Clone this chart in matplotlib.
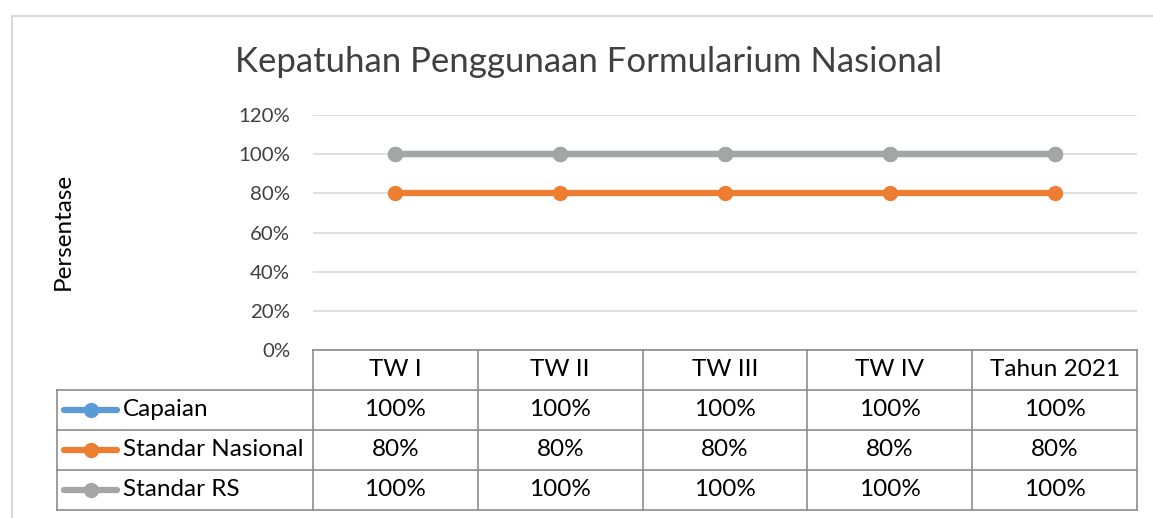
import matplotlib.pyplot as plt
from matplotlib.lines import Line2D
from matplotlib.patches import Rectangle

# data
kategori = ["TW I", "TW II", "TW III", "TW IV", "Tahun 2021"]
capaian = [1.00, 1.00, 1.00, 1.00, 1.00]
standar_nasional = [0.80, 0.80, 0.80, 0.80, 0.80]
standar_rs = [1.00, 1.00, 1.00, 1.00, 1.00]

seri_nama = ["Capaian", "Standar Nasional", "Standar RS"]
seri_nilai = [capaian, standar_nasional, standar_rs]
seri_warna = ["#5B9BD5", "#ED7D31", "#A5A5A5"]

plt.rcParams['font.family'] = ['Lato', 'DejaVu Sans']

W, H = 1153, 518
fig = plt.figure(figsize=(W / 100, H / 100), dpi=100)

def fx(px):
    return px / W

def fy(py):
    return 1 - py / H

# outer chart border
fig.patches.append(Rectangle((fx(12), fy(530)), fx(1160) - fx(12), fy(16) - fy(530),
                             transform=fig.transFigure, fill=False,
                             edgecolor="#D9D9D9", linewidth=1.5))

ax = fig.add_axes([fx(313), fy(350), fx(1137) - fx(313), fy(115) - fy(350)])
x = list(range(len(kategori)))

for nama, nilai, warna in zip(seri_nama, seri_nilai, seri_warna):
    ax.plot(x, nilai, color=warna, linewidth=4.5, marker="o", markersize=10,
            solid_capstyle="round", label=nama, zorder=3)

ax.set_xlim(-0.5, len(kategori) - 0.5)
ax.set_ylim(0, 1.2)
ticks = [0, 0.2, 0.4, 0.6, 0.8, 1.0, 1.2]
ax.set_yticks(ticks)
ax.set_yticklabels([f"{int(round(t * 100))}%" for t in ticks], fontsize=14.7, color="#404040")
ax.tick_params(axis="y", length=0, pad=16.5)
ax.set_xticks([])
ax.grid(axis="y", color="#D9D9D9", linewidth=1.2)
ax.set_axisbelow(True)
for s in ax.spines.values():
    s.set_visible(False)

fig.text(fx(589), fy(62), "Kepatuhan Penggunaan Formularium Nasional",
         ha="center", va="center", fontsize=25, color="#404040")
fig.text(fx(63), fy(231), "Persentase", rotation=90, ha="center", va="center",
         fontsize=17.5, color="#000000")

# data table
border = "#8C8C8C"
tbl_left, col_x0 = 57, 313
col_w = (1137 - 313) / len(kategori)
row_h = 40
top = 350

def hline(x0, x1, y):
    fig.add_artist(Line2D([fx(x0), fx(x1)], [fy(y), fy(y)], color=border, linewidth=1.2))

def vline(xp, y0, y1):
    fig.add_artist(Line2D([fx(xp), fx(xp)], [fy(y0), fy(y1)], color=border, linewidth=1.2))

n_rows = len(seri_nama)
bottom = top + row_h * (n_rows + 1)
hline(col_x0, 1137, top)
for r in range(1, n_rows + 2):
    hline(tbl_left, 1137, top + r * row_h)
vline(tbl_left, top + row_h, bottom)
for c in range(len(kategori) + 1):
    vline(col_x0 + c * col_w, top, bottom)

for c, k in enumerate(kategori):
    fig.text(fx(col_x0 + (c + 0.5) * col_w), fy(top + row_h / 2), k,
             ha="center", va="center", fontsize=17.5, color="#000000")

for r, (nama, nilai, warna) in enumerate(zip(seri_nama, seri_nilai, seri_warna)):
    yc = top + (r + 1.5) * row_h
    fig.add_artist(Line2D([fx(64), fx(117)], [fy(yc), fy(yc)], color=warna,
                          linewidth=4.5, solid_capstyle="round"))
    fig.add_artist(Line2D([fx(91)], [fy(yc)], color=warna, marker="o", markersize=10))
    fig.text(fx(123), fy(yc), nama, ha="left", va="center", fontsize=17.5, color="#000000")
    for c, v in enumerate(nilai):
        fig.text(fx(col_x0 + (c + 0.5) * col_w), fy(yc), f"{int(round(v * 100))}%",
                 ha="center", va="center", fontsize=17.5, color="#000000")

fig.savefig("out.png", dpi=100)
